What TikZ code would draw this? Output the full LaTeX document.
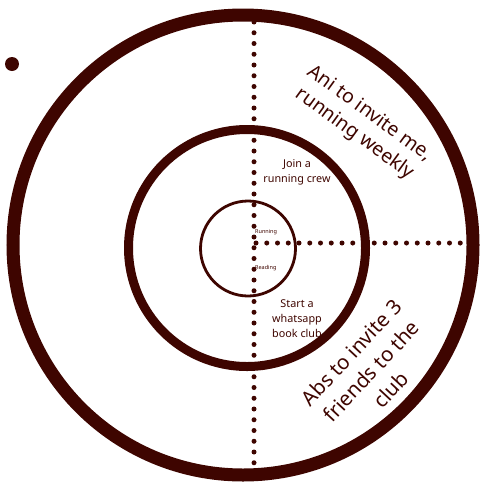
\documentclass[tikz,border=0pt]{standalone}
\usepackage{fontspec}
\setmainfont{Noto Sans}
\definecolor{maroon}{RGB}{62,5,0}
\begin{document}
\begin{tikzpicture}[x=1pt,y=-1pt,
  ringline/.style={draw=maroon},
  dotline/.style={draw=maroon, line width=5pt, line cap=round, dash pattern=on 0pt off 10.75pt},
  lbl/.style={text=maroon, align=center, inner sep=0pt}]
\useasboundingbox (0,0) rectangle (486,482);
\fill[maroon] (12,64) circle (7pt);
\coordinate (vtop) at (254,22);
\coordinate (vbot) at (254,463);
\coordinate (hl) at (256,243);
\coordinate (hr) at (473,243);
\draw[dotline] (vtop) -- (vbot);
\draw[dotline] (hl) -- (hr);
\draw[ringline, line width=13pt] (243,245) circle (230pt);
\draw[ringline, line width=9pt] (247,248) circle (118.5pt);
\draw[ringline, line width=2.8pt] (248,248.5) circle (47.5pt);
\node[lbl, font=\fontsize{10.8}{15}\selectfont] (join) at (297,172) {Join a\\running crew};
\node[lbl, font=\fontsize{10.8}{15}\selectfont] (start) at (297,319) {Start a\\whatsapp\\book club};
\node[lbl, font=\fontsize{5.5}{6}\selectfont, anchor=west] (running) at (255,232) {Running};
\node[lbl, font=\fontsize{5.5}{6}\selectfont, anchor=west] (reading) at (255,268) {Reading};
\node[lbl, font=\fontsize{19.5}{25}\selectfont, rotate=-36] (ani) at (362,124) {Ani to invite me,\\running weekly};
\node[lbl, font=\fontsize{20.5}{27}\selectfont, rotate=47] (abs) at (371,371) {Abs to invite 3\\friends to the\\club};
\end{tikzpicture}
\end{document}
